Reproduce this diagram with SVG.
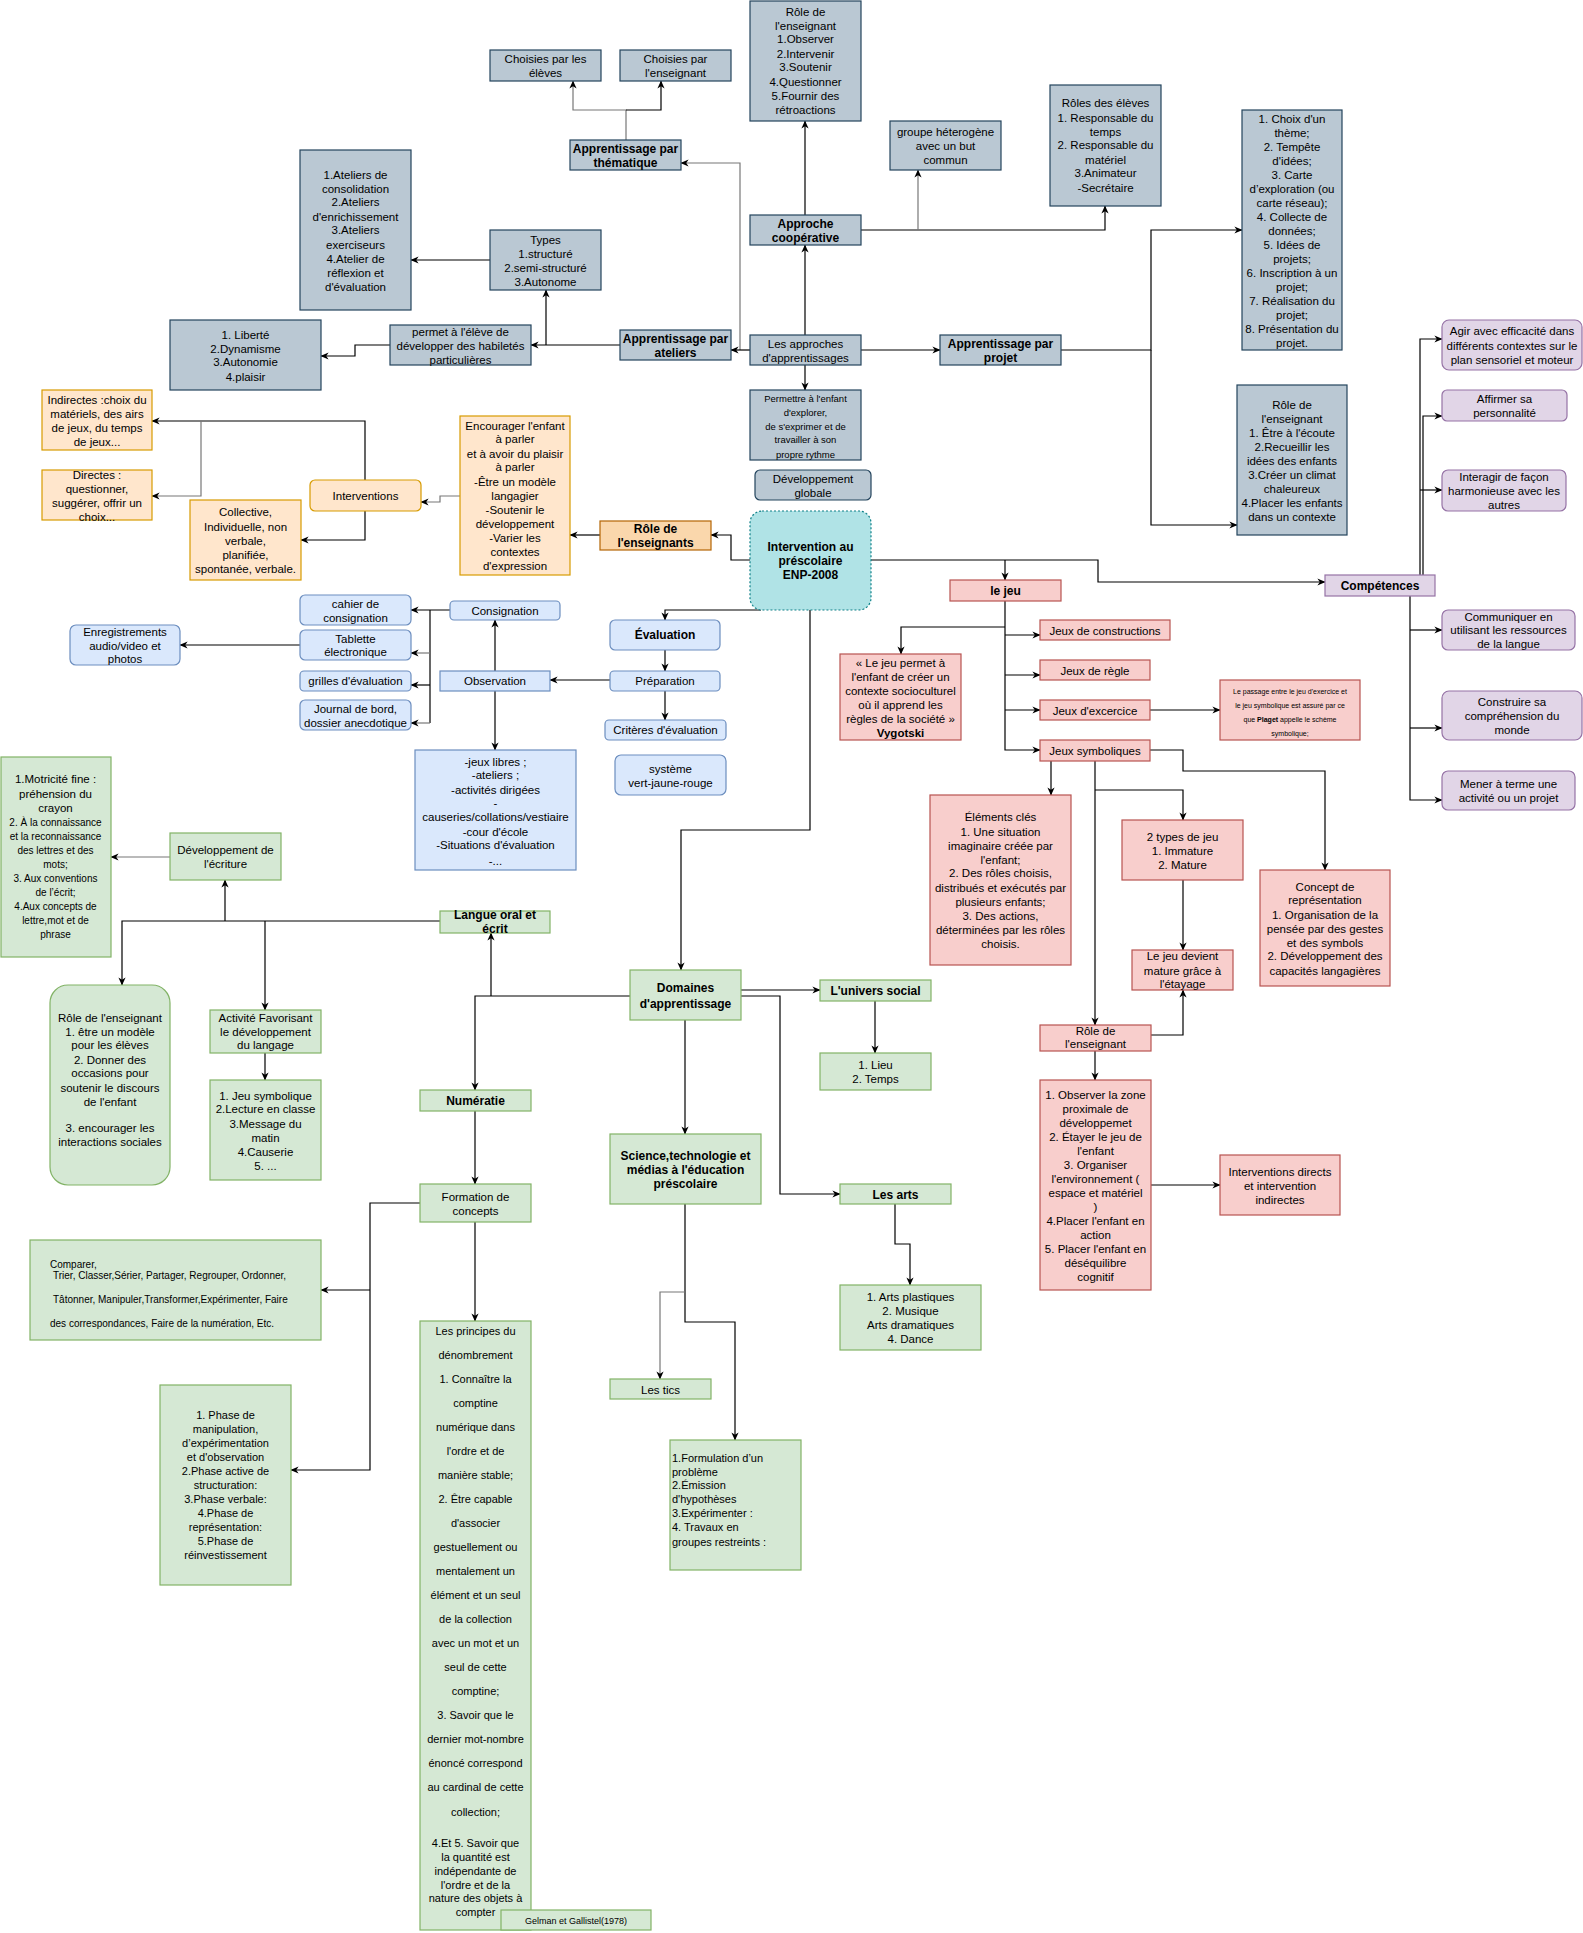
<svg xmlns="http://www.w3.org/2000/svg" width="1583" height="1933" viewBox="0 0 1583 1933">
<style>
text{font-family:"Liberation Sans",Arial,Helvetica,sans-serif;font-size:11.5px;fill:#000;text-anchor:middle}
.b{font-weight:bold;font-size:12px}
.gb{fill:#bac8d3;stroke:#23445d;stroke-width:1.2}
.or{fill:#ffe6cc;stroke:#d79b00;stroke-width:1.2}
.od{fill:#fad7ac;stroke:#b46504;stroke-width:1.2}
.te{fill:#b0e3e6;stroke:#0e8088;stroke-width:1.2;stroke-dasharray:2 2}
.bl{fill:#dae8fc;stroke:#6c8ebf;stroke-width:1.2}
.gr{fill:#d5e8d4;stroke:#82b366;stroke-width:1.2}
.pk{fill:#f8cecc;stroke:#b85450;stroke-width:1.2}
.pu{fill:#e1d5e7;stroke:#9673a6;stroke-width:1.2}
.c path{fill:none;stroke:#000;stroke-width:1.2;marker-end:url(#a)}
.c path.g{stroke:#777}
.c path.n{marker-end:none}
</style>
<defs>
<marker id="a" viewBox="0 0 10 10" refX="9.5" refY="5" markerWidth="8" markerHeight="8" markerUnits="userSpaceOnUse" orient="auto"><path d="M0,0.5 L10,5 L0,9.5 L3,5 z" fill="#000"/></marker>
</defs>
<rect width="1583" height="1933" fill="#fff"/>

<g id="connectors" class="c">
<path class="g" d="M626,140 V110 H573 V81"/>
<path d="M626,110 H661 V81"/>
<path d="M805,215 V121"/>
<path d="M805,335 V245"/>
<path d="M861,230 H1105 V206"/>
<path class="g" d="M918,230 V170"/>
<path class="g" d="M740,350 V163 H681"/>
<path d="M750,350 H731"/>
<path d="M620,345 H531"/>
<path d="M546,345 V290"/>
<path d="M490,260 H411"/>
<path d="M390,345 H355 V356 H321"/>
<path d="M861,350 H940"/>
<path d="M1061,350 H1151 V230 H1242"/>
<path d="M1151,350 V525 H1237"/>
<path d="M805,365 V390"/>
<path d="M750,560 H731 V535 H711"/>
<path d="M600,535 H570"/>
<path class="g" d="M460,496 H440 V502 H421"/>
<path d="M365,480 V421 H152"/>
<path class="g" d="M201,421 V496 H152"/>
<path d="M365,511 V540 H301"/>
<path d="M871,560 H1098 V582 H1325"/>
<path d="M1005,560 V580"/>
<path d="M1420,575 V339 H1442"/>
<path d="M1423,575 V416 H1442"/>
<path d="M1420,490 H1442"/>
<path d="M1410,596 V800 H1442"/>
<path d="M1410,630 H1442"/>
<path d="M1410,728 H1442"/>
<path d="M761,610 H665 V620"/>
<path d="M665,650 V671"/>
<path d="M665,691 V720"/>
<path d="M610,680 H550"/>
<path d="M495,671 V620"/>
<path d="M495,691 V750"/>
<path d="M450,610 H411"/>
<path class="n" d="M430,610 V723"/>
<path class="g" d="M430,653 H411"/>
<path d="M430,685 H411"/>
<path class="g" d="M430,723 H411"/>
<path d="M300,645 H180"/>
<path d="M810,610 V830 H681 V970"/>
<path d="M1005,601 V750 H1040"/>
<path d="M1005,635 H1040"/>
<path d="M1005,675 H1040"/>
<path d="M1005,710 H1040"/>
<path d="M1005,627 H901 V654"/>
<path d="M1150,710 H1220"/>
<path d="M1051,761 V795"/>
<path d="M1095,761 V1025"/>
<path d="M1095,790 H1183 V820"/>
<path d="M1150,750 H1183 V771 H1325 V870"/>
<path d="M1183,880 V950"/>
<path d="M1151,1035 H1183 V990"/>
<path d="M1095,1051 V1080"/>
<path d="M1151,1185 H1220"/>
<path d="M741,990 H820"/>
<path d="M741,996 H780 V1194 H840"/>
<path d="M875,1001 V1053"/>
<path d="M895,1204 V1244 H910 V1285"/>
<path d="M685,1020 V1134"/>
<path d="M685,1204 V1322 H735 V1440"/>
<path class="g" d="M685,1292 H660 V1379"/>
<path d="M630,996 H475 V1090"/>
<path d="M491,996 V933"/>
<path d="M440,921 H122 V985"/>
<path d="M225,921 V880"/>
<path d="M265,921 V1010"/>
<path class="g" d="M170,857 H111"/>
<path d="M265,1053 V1080"/>
<path d="M475,1111 V1184"/>
<path d="M420,1203 H370 V1470 H291"/>
<path d="M370,1290 H321"/>
<path d="M475,1222 V1321"/>
</g>

<g id="n1"><rect class="gb" x="490" y="50" width="111" height="31"/><text><tspan x="545.5" y="62.5">Choisies par les</tspan><tspan x="545.5" y="76.7">élèves</tspan></text></g>
<g id="n2"><rect class="gb" x="620" y="50" width="111" height="31"/><text><tspan x="675.5" y="62.5">Choisies par</tspan><tspan x="675.5" y="76.7">l'enseignant</tspan></text></g>
<g id="n3"><rect class="gb" x="570" y="140" width="111" height="30"/><text class="b"><tspan x="625.5" y="152.5">Apprentissage par</tspan><tspan x="625.5" y="166.6">thématique</tspan></text></g>
<g id="n4"><rect class="gb" x="750" y="1" width="111" height="120"/><text><tspan x="805.5" y="15.5">Rôle de</tspan><tspan x="805.5" y="29.6">l'enseignant</tspan><tspan x="805.5" y="43.4">1.Observer</tspan><tspan x="805.5" y="57.6">2.Intervenir</tspan><tspan x="805.5" y="71.4">3.Soutenir</tspan><tspan x="805.5" y="85.5">4.Questionner</tspan><tspan x="805.5" y="99.7">5.Fournir des</tspan><tspan x="805.5" y="113.8">rétroactions</tspan></text></g>
<g id="n5"><rect class="gb" x="890" y="121" width="111" height="49"/><text><tspan x="945.5" y="135.6">groupe héterogène</tspan><tspan x="945.5" y="149.8">avec un but</tspan><tspan x="945.5" y="163.6">commun</tspan></text></g>
<g id="n6"><rect class="gb" x="1050" y="85" width="111" height="121"/><text><tspan x="1105.5" y="107.3">Rôles des élèves</tspan><tspan x="1105.5" y="121.5">1. Responsable du</tspan><tspan x="1105.5" y="135.6">temps</tspan><tspan x="1105.5" y="149.4">2. Responsable du</tspan><tspan x="1105.5" y="163.6">matériel</tspan><tspan x="1105.5" y="177.4">3.Animateur</tspan><tspan x="1105.5" y="191.5">-Secrétaire</tspan></text></g>
<g id="n7"><rect class="gb" x="750" y="215" width="111" height="30"/><text class="b"><tspan x="805.5" y="227.5">Approche</tspan><tspan x="805.5" y="241.7">coopérative</tspan></text></g>
<g id="n8"><rect class="gb" x="300" y="150" width="111" height="160"/><text><tspan x="355.5" y="178.5">1.Ateliers de</tspan><tspan x="355.5" y="192.7">consolidation</tspan><tspan x="355.5" y="206.4">2.Ateliers</tspan><tspan x="355.5" y="220.6">d'enrichissement</tspan><tspan x="355.5" y="234.4">3.Ateliers</tspan><tspan x="355.5" y="248.5">exerciseurs</tspan><tspan x="355.5" y="262.7">4.Atelier de</tspan><tspan x="355.5" y="276.5">réflexion et</tspan><tspan x="355.5" y="290.6">d'évaluation</tspan></text></g>
<g id="n9"><rect class="gb" x="490" y="230" width="111" height="60"/><text><tspan x="545.5" y="243.6">Types</tspan><tspan x="545.5" y="257.7">1.structuré</tspan><tspan x="545.5" y="271.5">2.semi-structuré</tspan><tspan x="545.5" y="285.7">3.Autonome</tspan></text></g>
<g id="n10"><rect class="gb" x="1242" y="110" width="100" height="240"/><text><tspan x="1292" y="122.6">1. Choix d'un</tspan><tspan x="1292" y="136.6">thème;</tspan><tspan x="1292" y="150.6">2. Tempête</tspan><tspan x="1292" y="164.6">d'idées;</tspan><tspan x="1292" y="178.7">3. Carte</tspan><tspan x="1292" y="192.7">d’exploration (ou</tspan><tspan x="1292" y="206.7">carte réseau);</tspan><tspan x="1292" y="220.7">4. Collecte de</tspan><tspan x="1292" y="234.7">données;</tspan><tspan x="1292" y="248.8">5. Idées de</tspan><tspan x="1292" y="262.8">projets;</tspan><tspan x="1292" y="276.8">6. Inscription à un</tspan><tspan x="1292" y="290.8">projet;</tspan><tspan x="1292" y="304.8">7. Réalisation du</tspan><tspan x="1292" y="318.9">projet;</tspan><tspan x="1292" y="332.9">8. Présentation du</tspan><tspan x="1292" y="346.9">projet.</tspan></text></g>
<g id="n11"><rect class="gb" x="620" y="330" width="111" height="30"/><text class="b"><tspan x="675.5" y="343">Apprentissage par</tspan><tspan x="675.5" y="356.8">ateliers</tspan></text></g>
<g id="n12"><rect class="gb" x="750" y="335" width="111" height="30"/><text><tspan x="805.5" y="347.7">Les approches</tspan><tspan x="805.5" y="361.8">d'apprentissages</tspan></text></g>
<g id="n13"><rect class="gb" x="940" y="335" width="121" height="30"/><text class="b"><tspan x="1000.5" y="347.7">Apprentissage par</tspan><tspan x="1000.5" y="361.8">projet</tspan></text></g>
<g id="n14"><rect class="gb" x="390" y="325" width="141" height="40"/><text><tspan x="460.5" y="335.8">permet à l'élève de</tspan><tspan x="460.5" y="349.6">développer des habiletés</tspan><tspan x="460.5" y="363.7">particulières</tspan></text></g>
<g id="n15"><rect class="gb" x="170" y="320" width="151" height="70"/><text><tspan x="245.5" y="338.5">1. Liberté</tspan><tspan x="245.5" y="352.6">2.Dynamisme</tspan><tspan x="245.5" y="366.4">3.Autonomie</tspan><tspan x="245.5" y="380.6">4.plaisir</tspan></text></g>
<g id="n16"><rect class="gb" x="750" y="390" width="111" height="70"/><text style="font-size:9.5px"><tspan x="805.5" y="401.7">Permettre à l'enfant</tspan><tspan x="805.5" y="415.5">d'explorer,</tspan><tspan x="805.5" y="429.6">de s'exprimer et de</tspan><tspan x="805.5" y="443.4">travailler à son</tspan><tspan x="805.5" y="457.6">propre rythme</tspan></text></g>
<g id="n17"><rect class="gb" x="755" y="470" width="116" height="30" rx="5"/><text><tspan x="813" y="482.8">Développement</tspan><tspan x="813" y="496.9">globale</tspan></text></g>
<g id="n18"><rect class="gb" x="1237" y="385" width="110" height="150"/><text><tspan x="1292" y="408.5">Rôle de</tspan><tspan x="1292" y="422.5">l'enseignant</tspan><tspan x="1292" y="436.5">1. Être à l'écoute</tspan><tspan x="1292" y="450.5">2.Recueillir les</tspan><tspan x="1292" y="464.5">idées des enfants</tspan><tspan x="1292" y="478.5">3.Créer un climat</tspan><tspan x="1292" y="492.5">chaleureux</tspan><tspan x="1292" y="506.5">4.Placer les enfants</tspan><tspan x="1292" y="520.6">dans un contexte</tspan></text></g>
<g id="n19"><rect class="pu" x="1442" y="320" width="140" height="50" rx="7"/><text><tspan x="1512" y="335.4">Agir avec efficacité dans</tspan><tspan x="1512" y="349.6">différents contextes sur le</tspan><tspan x="1512" y="363.7">plan sensoriel et moteur</tspan></text></g>
<g id="n20"><rect class="pu" x="1442" y="390" width="125" height="31" rx="5"/><text><tspan x="1504.5" y="402.8">Affirmer sa</tspan><tspan x="1504.5" y="416.5">personnalité</tspan></text></g>
<g id="n21"><rect class="pu" x="1442" y="470" width="124" height="41" rx="6"/><text><tspan x="1504" y="480.8">Interagir de façon</tspan><tspan x="1504" y="494.6">harmonieuse avec les</tspan><tspan x="1504" y="508.8">autres</tspan></text></g>
<g id="n22"><rect class="or" x="42" y="390" width="110" height="60"/><text><tspan x="97" y="403.5">Indirectes :choix du</tspan><tspan x="97" y="417.7">matériels, des airs</tspan><tspan x="97" y="431.8">de jeux, du temps</tspan><tspan x="97" y="446">de jeux...</tspan></text></g>
<g id="n23"><rect class="or" x="42" y="470" width="110" height="50"/><text><tspan x="97" y="478.6">Directes :</tspan><tspan x="97" y="492.7">questionner,</tspan><tspan x="97" y="506.5">suggérer, offrir un</tspan><tspan x="97" y="520.6">choix...</tspan></text></g>
<g id="n24"><rect class="or" x="310" y="480" width="111" height="31" rx="5"/><text><tspan x="365.5" y="500">Interventions</tspan></text></g>
<g id="n25"><rect class="or" x="190" y="500" width="111" height="80"/><text><tspan x="245.5" y="516.4">Collective,</tspan><tspan x="245.5" y="530.6">Individuelle, non</tspan><tspan x="245.5" y="544.8">verbale,</tspan><tspan x="245.5" y="558.5">planifiée,</tspan><tspan x="245.5" y="572.7">spontanée, verbale.</tspan></text></g>
<g id="n26"><rect class="or" x="460" y="416" width="110" height="159"/><text><tspan x="515" y="429.6">Encourager l'enfant</tspan><tspan x="515" y="443.4">à parler</tspan><tspan x="515" y="457.6">et à avoir du plaisir</tspan><tspan x="515" y="471.4">à parler</tspan><tspan x="515" y="485.5">-Être un modèle</tspan><tspan x="515" y="499.7">langagier</tspan><tspan x="515" y="513.5">-Soutenir le</tspan><tspan x="515" y="527.6">développement</tspan><tspan x="515" y="541.8">-Varier les</tspan><tspan x="515" y="555.6">contextes</tspan><tspan x="515" y="569.6">d'expression</tspan></text></g>
<g id="n27"><rect class="od" x="600" y="521" width="111" height="29"/><text class="b"><tspan x="655.5" y="532.5">Rôle de</tspan><tspan x="655.5" y="546.7">l'enseignants</tspan></text></g>
<g id="n28"><rect class="te" x="750" y="511" width="121" height="99" rx="12"/><text class="b"><tspan x="810.5" y="550.5">Intervention au</tspan><tspan x="810.5" y="564.6">préscolaire</tspan><tspan x="810.5" y="578.8">ENP-2008</tspan></text></g>
<g id="n29"><rect class="pk" x="950" y="580" width="111" height="21"/><text class="b"><tspan x="1005.5" y="594.5">le jeu</tspan></text></g>
<g id="n30"><rect class="pu" x="1325" y="575" width="110" height="21"/><text class="b"><tspan x="1380" y="589.6">Compétences</tspan></text></g>
<g id="n31"><rect class="bl" x="450" y="601" width="110" height="19" rx="4"/><text><tspan x="505" y="614.5">Consignation</tspan></text></g>
<g id="n32"><rect class="bl" x="300" y="595" width="111" height="30" rx="5"/><text><tspan x="355.5" y="607.7">cahier de</tspan><tspan x="355.5" y="621.6">consignation</tspan></text></g>
<g id="n33"><rect class="bl" x="300" y="630" width="111" height="30" rx="5"/><text><tspan x="355.5" y="642.5">Tablette</tspan><tspan x="355.5" y="656.4">électronique</tspan></text></g>
<g id="n34"><rect class="bl" x="300" y="671" width="111" height="20" rx="4"/><text><tspan x="355.5" y="684.8">grilles d'évaluation</tspan></text></g>
<g id="n35"><rect class="bl" x="300" y="700" width="111" height="30" rx="5"/><text><tspan x="355.5" y="712.5">Journal de bord,</tspan><tspan x="355.5" y="726.7">dossier anecdotique</tspan></text></g>
<g id="n36"><rect class="bl" x="70" y="625" width="110" height="40" rx="6"/><text><tspan x="125" y="635.8">Enregistrements</tspan><tspan x="125" y="649.7">audio/video et</tspan><tspan x="125" y="663.4">photos</tspan></text></g>
<g id="n37"><rect class="bl" x="440" y="671" width="110" height="20"/><text><tspan x="495" y="685">Observation</tspan></text></g>
<g id="n38"><rect class="bl" x="610" y="620" width="110" height="30" rx="5"/><text class="b"><tspan x="665" y="639.4">Évaluation</tspan></text></g>
<g id="n39"><rect class="bl" x="610" y="671" width="110" height="20" rx="4"/><text><tspan x="665" y="685">Préparation</tspan></text></g>
<g id="n40"><rect class="bl" x="605" y="720" width="121" height="20" rx="4"/><text><tspan x="665.5" y="734">Critères d'évaluation</tspan></text></g>
<g id="n41"><rect class="bl" x="615" y="755" width="111" height="40" rx="6"/><text><tspan x="670.5" y="772.6">système</tspan><tspan x="670.5" y="786.8">vert-jaune-rouge</tspan></text></g>
<g id="n42"><rect class="bl" x="415" y="750" width="161" height="120"/><text><tspan x="495.5" y="765.5">-jeux libres ;</tspan><tspan x="495.5" y="779.3">-ateliers ;</tspan><tspan x="495.5" y="793.6">-activités dirigées</tspan><tspan x="495.5" y="807.4">-</tspan><tspan x="495.5" y="821.2">causeries/collations/vestiaire</tspan><tspan x="495.5" y="835.5">-cour d'école</tspan><tspan x="495.5" y="849.3">-Situations d'évaluation</tspan><tspan x="495.5" y="864.7">-...</tspan></text></g>
<g id="n43"><rect class="pk" x="840" y="654" width="121" height="86"/><text><tspan x="900.5" y="666.6">« Le jeu permet à</tspan><tspan x="900.5" y="680.5">l'enfant de créer un</tspan><tspan x="900.5" y="694.7">contexte socioculturel</tspan><tspan x="900.5" y="708.5">où il apprend les</tspan><tspan x="900.5" y="722.8">règles de la société »</tspan><tspan x="900.5" y="736.6" font-weight="bold">Vygotski</tspan></text></g>
<g id="n44"><rect class="pk" x="1040" y="620" width="130" height="20"/><text><tspan x="1105" y="634.6">Jeux de constructions</tspan></text></g>
<g id="n45"><rect class="pk" x="1040" y="660" width="110" height="20"/><text><tspan x="1095" y="674.9">Jeux de règle</tspan></text></g>
<g id="n46"><rect class="pk" x="1040" y="700" width="110" height="20"/><text><tspan x="1095" y="714.5">Jeux d'excercice</tspan></text></g>
<g id="n47"><rect class="pk" x="1040" y="740" width="110" height="21"/><text><tspan x="1095" y="754.8">Jeux symboliques</tspan></text></g>
<g id="n48"><rect class="pk" x="1220" y="680" width="140" height="60"/><text style="font-size:7px"><tspan x="1290" y="693.6">Le passage entre le jeu d'exercice et</tspan><tspan x="1290" y="707.8">le jeu symbolique est assuré par ce</tspan><tspan x="1290" y="721.7">que <tspan font-weight="bold">Plaget</tspan> appelle le schème</tspan><tspan x="1290" y="735.9">symbolique;</tspan></text></g>
<g id="n49"><rect class="pk" x="930" y="795" width="141" height="170"/><text><tspan x="1000.5" y="821.2">Éléments clés</tspan><tspan x="1000.5" y="835.5">1. Une situation</tspan><tspan x="1000.5" y="849.7">imaginaire créée par</tspan><tspan x="1000.5" y="863.5">l'enfant;</tspan><tspan x="1000.5" y="877.4">2. Des rôles choisis,</tspan><tspan x="1000.5" y="891.6">distribués et exécutés par</tspan><tspan x="1000.5" y="905.5">plusieurs enfants;</tspan><tspan x="1000.5" y="919.7">3. Des actions,</tspan><tspan x="1000.5" y="933.6">déterminées par les rôles</tspan><tspan x="1000.5" y="947.8">choisis.</tspan></text></g>
<g id="n50"><rect class="pk" x="1122" y="820" width="121" height="60"/><text><tspan x="1182.5" y="840.6">2 types de jeu</tspan><tspan x="1182.5" y="854.5">1. Immature</tspan><tspan x="1182.5" y="868.7">2. Mature</tspan></text></g>
<g id="n51"><rect class="pk" x="1132" y="950" width="101" height="40"/><text><tspan x="1182.5" y="960.4">Le jeu devient</tspan><tspan x="1182.5" y="974.6">mature grâce à</tspan><tspan x="1182.5" y="988.4">l'étayage</tspan></text></g>
<g id="n52"><rect class="pk" x="1260" y="870" width="130" height="116"/><text><tspan x="1325" y="890.8">Concept de</tspan><tspan x="1325" y="904.3">représentation</tspan><tspan x="1325" y="918.9">1. Organisation de la</tspan><tspan x="1325" y="932.7">pensée par des gestes</tspan><tspan x="1325" y="946.6">et des symbols</tspan><tspan x="1325" y="960.4">2. Développement des</tspan><tspan x="1325" y="974.6">capacités langagières</tspan></text></g>
<g id="n53"><rect class="pk" x="1040" y="1025" width="111" height="26"/><text><tspan x="1095.5" y="1034.7">Rôle de</tspan><tspan x="1095.5" y="1048.3">l'enseignant</tspan></text></g>
<g id="n54"><rect class="pk" x="1040" y="1080" width="111" height="210"/><text><tspan x="1095.5" y="1099">1. Observer la zone</tspan><tspan x="1095.5" y="1112.7">proximale de</tspan><tspan x="1095.5" y="1126.7">développemet</tspan><tspan x="1095.5" y="1140.7">2. Étayer le jeu de</tspan><tspan x="1095.5" y="1154.7">l'enfant</tspan><tspan x="1095.5" y="1168.7">3. Organiser</tspan><tspan x="1095.5" y="1182.7">l'environnement (</tspan><tspan x="1095.5" y="1196.7">espace et matériel</tspan><tspan x="1095.5" y="1210.7">)</tspan><tspan x="1095.5" y="1224.7">4.Placer l'enfant en</tspan><tspan x="1095.5" y="1238.7">action</tspan><tspan x="1095.5" y="1252.7">5. Placer l'enfant en</tspan><tspan x="1095.5" y="1266.7">déséquilibre</tspan><tspan x="1095.5" y="1280.7">cognitif</tspan></text></g>
<g id="n55"><rect class="pk" x="1220" y="1155" width="120" height="60"/><text><tspan x="1280" y="1176">Interventions directs</tspan><tspan x="1280" y="1189.7">et intervention</tspan><tspan x="1280" y="1203.7">indirectes</tspan></text></g>
<g id="n56"><rect class="pu" x="1442" y="610" width="133" height="40" rx="6"/><text><tspan x="1508.5" y="620.8">Communiquer en</tspan><tspan x="1508.5" y="634.2">utilisant les ressources</tspan><tspan x="1508.5" y="648.4">de la langue</tspan></text></g>
<g id="n57"><rect class="pu" x="1442" y="691" width="140" height="49" rx="7"/><text><tspan x="1512" y="705.8">Construire sa</tspan><tspan x="1512" y="719.6">compréhension du</tspan><tspan x="1512" y="733.5">monde</tspan></text></g>
<g id="n58"><rect class="pu" x="1442" y="771" width="133" height="39" rx="6"/><text><tspan x="1508.5" y="787.6">Mener à terme une</tspan><tspan x="1508.5" y="801.5">activité ou un projet</tspan></text></g>
<g id="n59"><rect class="gr" x="1" y="757" width="110" height="200"/><text><tspan x="55.5" y="783.3">1.Motricité fine :</tspan><tspan x="55.5" y="797.5">préhension du</tspan><tspan x="55.5" y="811.8">crayon</tspan></text><text style="font-size:10px"><tspan x="55.5" y="825.5">2. À la connaissance</tspan><tspan x="55.5" y="839.7">et la reconnaissance</tspan><tspan x="55.5" y="853.5">des lettres et des</tspan><tspan x="55.5" y="867.8">mots;</tspan><tspan x="55.5" y="881.6">3. Aux conventions</tspan><tspan x="55.5" y="895.9">de l’écrit;</tspan><tspan x="55.5" y="909.7">4.Aux concepts de</tspan><tspan x="55.5" y="923.9">lettre,mot et de</tspan><tspan x="55.5" y="937.8">phrase</tspan></text></g>
<g id="n60"><rect class="gr" x="170" y="833" width="111" height="47"/><text><tspan x="225.5" y="853.7">Développement de</tspan><tspan x="225.5" y="867.5">l'écriture</tspan></text></g>
<g id="n61"><rect class="gr" x="440" y="911" width="110" height="22"/><text class="b"><tspan x="495" y="918.9">Langue oral et</tspan><tspan x="495" y="932.7">écrit</tspan></text></g>
<g id="n62"><rect class="gr" x="50" y="985" width="120" height="200" rx="18"/><text><tspan x="110" y="1021.7">Rôle de l'enseignant</tspan><tspan x="110" y="1035.5">1. être un modèle</tspan><tspan x="110" y="1049.4">pour les élèves</tspan><tspan x="110" y="1063.6">2. Donner des</tspan><tspan x="110" y="1077.4">occasions pour</tspan><tspan x="110" y="1091.7">soutenir le discours</tspan><tspan x="110" y="1105.5">de l'enfant</tspan><tspan x="110" y="1131.6">3. encourager les</tspan><tspan x="110" y="1145.5">interactions sociales</tspan></text></g>
<g id="n63"><rect class="gr" x="210" y="1010" width="111" height="43"/><text><tspan x="265.5" y="1021.7">Activité Favorisant</tspan><tspan x="265.5" y="1035.5">le développement</tspan><tspan x="265.5" y="1049.4">du langage</tspan></text></g>
<g id="n64"><rect class="gr" x="210" y="1080" width="111" height="100"/><text><tspan x="265.5" y="1099.6">1. Jeu symbolique</tspan><tspan x="265.5" y="1113.4">2.Lecture en classe</tspan><tspan x="265.5" y="1127.7">3.Message du</tspan><tspan x="265.5" y="1141.5">matin</tspan><tspan x="265.5" y="1155.8">4.Causerie</tspan><tspan x="265.5" y="1170">5. ...</tspan></text></g>
<g id="n65"><rect class="gr" x="630" y="970" width="111" height="50"/><text class="b"><tspan x="685.5" y="992.4">Domaines</tspan><tspan x="685.5" y="1007.9">d'apprentissage</tspan></text></g>
<g id="n66"><rect class="gr" x="820" y="980" width="111" height="21"/><text class="b"><tspan x="875.5" y="995">L'univers social</tspan></text></g>
<g id="n67"><rect class="gr" x="820" y="1053" width="111" height="37"/><text><tspan x="875.5" y="1068.8">1. Lieu</tspan><tspan x="875.5" y="1082.6">2. Temps</tspan></text></g>
<g id="n68"><rect class="gr" x="420" y="1090" width="111" height="21"/><text class="b"><tspan x="475.5" y="1104.5">Numératie</tspan></text></g>
<g id="n69"><rect class="gr" x="610" y="1134" width="151" height="70"/><text class="b"><tspan x="685.5" y="1159.9">Science,technologie et</tspan><tspan x="685.5" y="1173.7">médias à l'éducation</tspan><tspan x="685.5" y="1188">préscolaire</tspan></text></g>
<g id="n70"><rect class="gr" x="840" y="1184" width="111" height="20"/><text class="b"><tspan x="895.5" y="1198.6">Les arts</tspan></text></g>
<g id="n71"><rect class="gr" x="420" y="1184" width="111" height="38"/><text><tspan x="475.5" y="1200.8">Formation de</tspan><tspan x="475.5" y="1214.7">concepts</tspan></text></g>
<g id="n72"><rect class="gr" x="30" y="1240" width="291" height="100"/><text style="font-size:10px;text-anchor:start"><tspan x="50" y="1267.5">Comparer,</tspan><tspan x="53" y="1278.5">Trier, Classer,Sérier, Partager, Regrouper, Ordonner,</tspan><tspan x="53" y="1302.5">Tâtonner, Manipuler,Transformer,Expérimenter, Faire</tspan><tspan x="50" y="1326.5">des correspondances, Faire de la numération, Etc.</tspan></text></g>
<g id="n73"><rect class="gr" x="160" y="1385" width="131" height="200"/><text style="font-size:11px"><tspan x="225.5" y="1419.3">1. Phase de</tspan><tspan x="225.5" y="1433.2">manipulation,</tspan><tspan x="225.5" y="1447.2">d’expérimentation</tspan><tspan x="225.5" y="1461.1">et d'observation</tspan><tspan x="225.5" y="1475">2.Phase active de</tspan><tspan x="225.5" y="1489.4">structuration:</tspan><tspan x="225.5" y="1503.3">3.Phase verbale:</tspan><tspan x="225.5" y="1517.3">4.Phase de</tspan><tspan x="225.5" y="1531.2">représentation:</tspan><tspan x="225.5" y="1545.1">5.Phase de</tspan><tspan x="225.5" y="1559">réinvestissement</tspan></text></g>
<g id="n74"><rect class="gr" x="420" y="1321" width="111" height="609"/><text style="font-size:11px"><tspan x="475.5" y="1335.3">Les principes du</tspan><tspan x="475.5" y="1359.3">dénombrement</tspan><tspan x="475.5" y="1383.3">1. Connaître la</tspan><tspan x="475.5" y="1407.3">comptine</tspan><tspan x="475.5" y="1431.3">numérique dans</tspan><tspan x="475.5" y="1455.3">l'ordre et de</tspan><tspan x="475.5" y="1479.3">manière stable;</tspan><tspan x="475.5" y="1503.3">2. Être capable</tspan><tspan x="475.5" y="1527.3">d'associer</tspan><tspan x="475.5" y="1551.3">gestuellement ou</tspan><tspan x="475.5" y="1575.4">mentalement un</tspan><tspan x="475.5" y="1599.4">élément et un seul</tspan><tspan x="475.5" y="1623.4">de la collection</tspan><tspan x="475.5" y="1647.4">avec un mot et un</tspan><tspan x="475.5" y="1671.4">seul de cette</tspan><tspan x="475.5" y="1695.4">comptine;</tspan><tspan x="475.5" y="1719.4">3. Savoir que le</tspan><tspan x="475.5" y="1743.4">dernier mot-nombre</tspan><tspan x="475.5" y="1767.4">énoncé correspond</tspan><tspan x="475.5" y="1791.4">au cardinal de cette</tspan><tspan x="475.5" y="1815.5">collection;</tspan><tspan x="475.5" y="1846.7">4.Et 5. Savoir que</tspan><tspan x="475.5" y="1860.6">la quantité est</tspan><tspan x="475.5" y="1874.5">indépendante de</tspan><tspan x="475.5" y="1888.5">l'ordre et de la</tspan><tspan x="475.5" y="1902.4">nature des objets à</tspan><tspan x="475.5" y="1916.3">compter</tspan></text></g>
<g id="n75"><rect class="gr" x="501" y="1910" width="150" height="20"/><text style="font-size:9px"><tspan x="576" y="1924">Gelman et Gallistel(1978)</tspan></text></g>
<g id="n76"><rect class="gr" x="610" y="1379" width="101" height="20"/><text><tspan x="660.5" y="1393.8">Les tics</tspan></text></g>
<g id="n77"><rect class="gr" x="670" y="1440" width="131" height="130"/><text style="font-size:11px;text-anchor:start"><tspan x="672" y="1461.6">1.Formulation d’un</tspan><tspan x="672" y="1475.5">problème</tspan><tspan x="672" y="1489.4">2.Émission</tspan><tspan x="672" y="1503.3">d'hypothèses</tspan><tspan x="672" y="1517.3">3.Expérimenter :</tspan><tspan x="672" y="1531.2">4. Travaux en</tspan><tspan x="672" y="1545.6">groupes restreints :</tspan></text></g>
<g id="n78"><rect class="gr" x="840" y="1285" width="141" height="65"/><text><tspan x="910.5" y="1300.7">1. Arts plastiques</tspan><tspan x="910.5" y="1314.6">2. Musique</tspan><tspan x="910.5" y="1328.5">Arts dramatiques</tspan><tspan x="910.5" y="1342.5">4. Dance</tspan></text></g>
</svg>
